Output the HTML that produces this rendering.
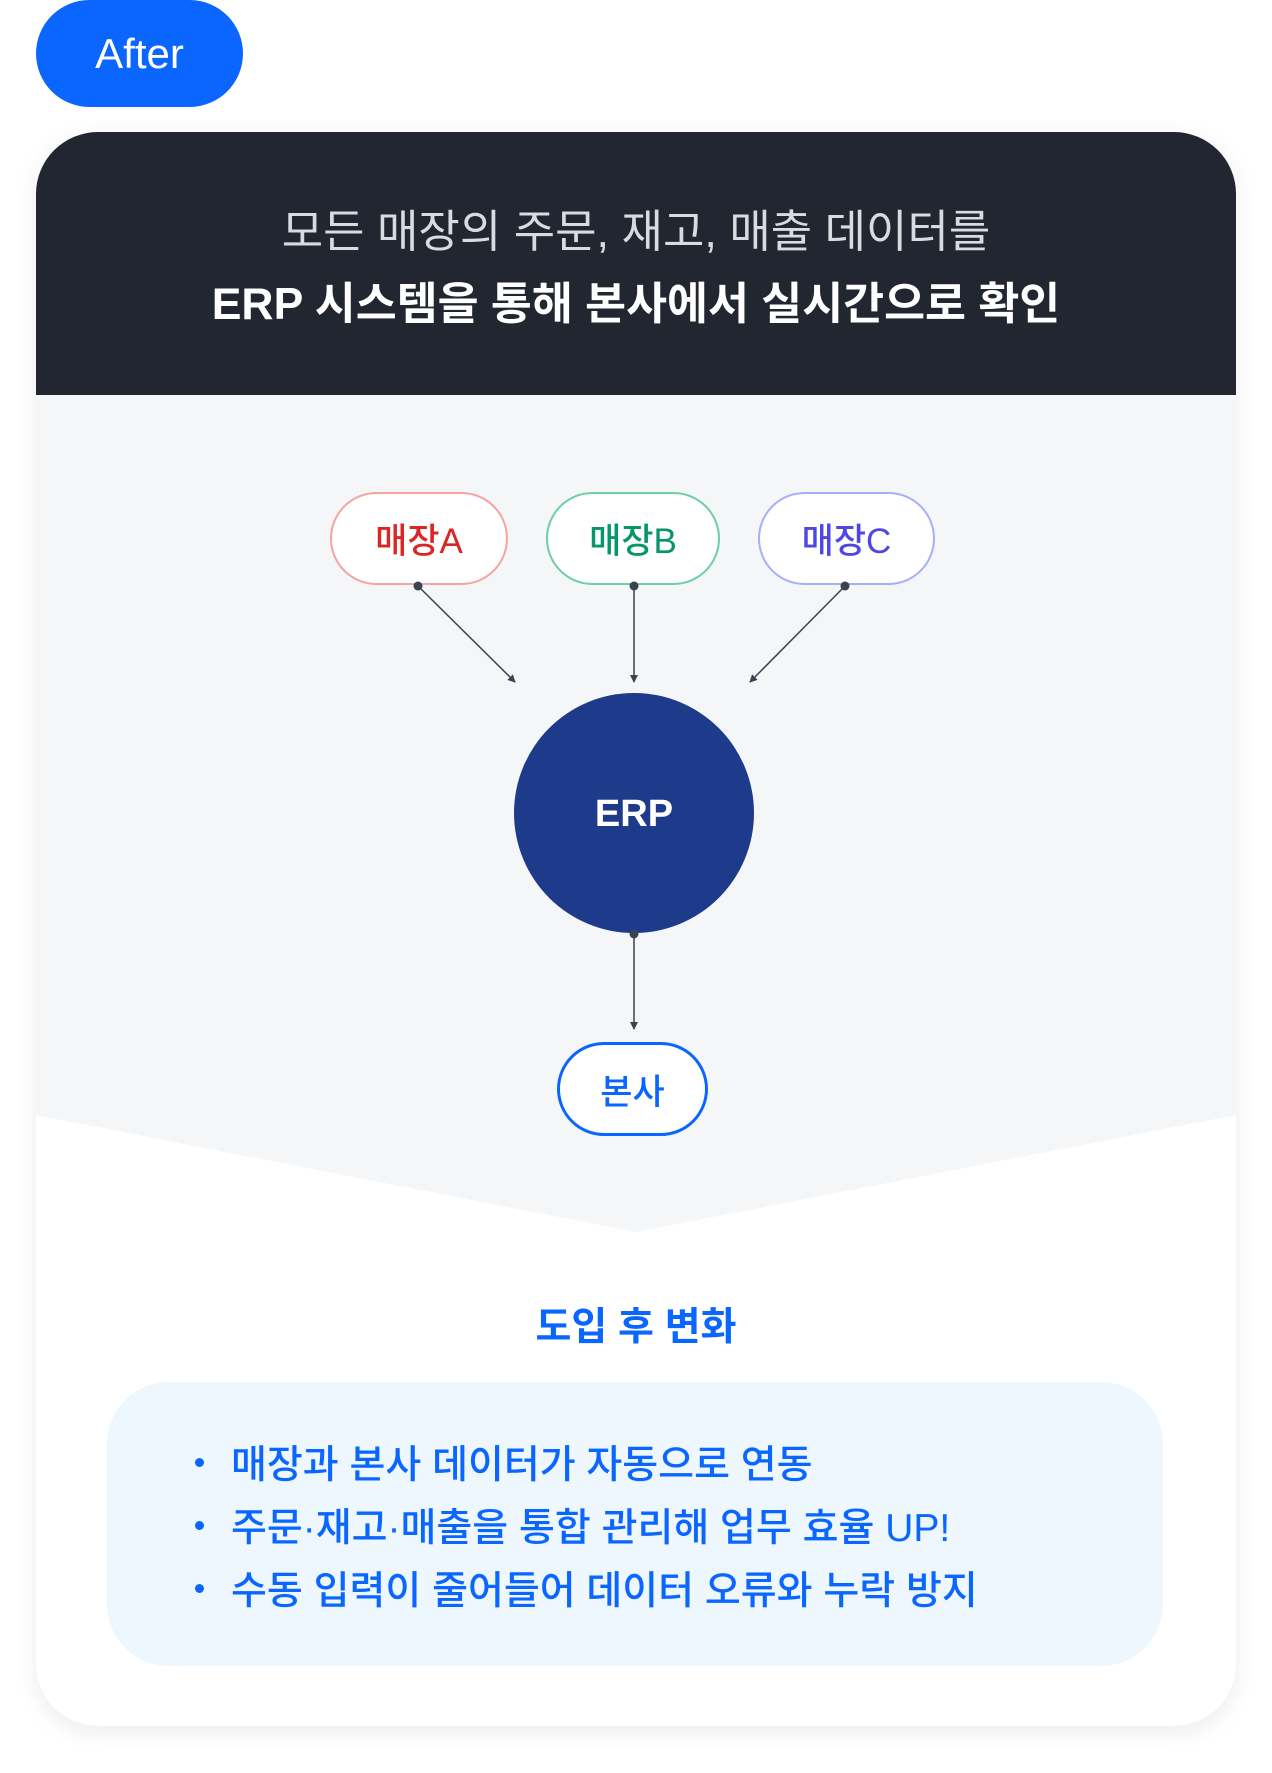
<!DOCTYPE html>
<html><head><meta charset="utf-8"><style>
*{margin:0;padding:0;box-sizing:border-box}
body{width:1272px;height:1773px;background:#fff;font-family:"Liberation Sans","Noto Sans CJK KR",sans-serif;position:relative;overflow:hidden}
.abs{position:absolute}
.pill{position:absolute;border-radius:60px;background:#fff;display:flex;align-items:center;justify-content:center;font-size:35px;font-weight:500}
.bl{position:absolute;left:0;font-size:39px;color:#0a66ff;font-weight:500;white-space:nowrap}
.dot{position:absolute;left:3px;width:9px;height:9px;border-radius:50%;background:#0a66ff}
</style></head><body>
<div class="abs" style="left:36px;top:0;width:207px;height:107px;border-radius:54px;background:#0a66ff;color:#fff;font-size:42px;display:flex;align-items:center;justify-content:center">After</div>
<div class="abs" style="left:36px;top:132px;width:1200px;height:1594px;border-radius:62px;background:#fff;box-shadow:0 6px 24px rgba(0,0,0,0.08);overflow:hidden">
  <div class="abs" style="left:0;top:0;width:1200px;height:263px;background:#222630"></div>
  <div class="abs" style="left:0;top:63px;width:1200px;text-align:center;color:#d8dbe0;font-size:45px">모든 매장의 주문, 재고, 매출 데이터를</div>
  <div class="abs" style="left:0;top:135px;width:1200px;text-align:center;color:#fff;font-size:44.5px;font-weight:bold">ERP 시스템을 통해 본사에서 실시간으로 확인</div>
  <svg class="abs" style="left:0;top:263px" width="1200" height="840"><polygon points="0,0 1200,0 1200,720 600,837 0,720" fill="#f4f6f8"/></svg>
</div>
<svg class="abs" style="left:0;top:0" width="1272" height="1773">
  <defs><marker id="a" markerWidth="8" markerHeight="8" refX="7" refY="4" orient="auto" markerUnits="userSpaceOnUse"><path d="M0,0 L8,4 L0,8z" fill="#3b4250"/></marker></defs>
  <g stroke="#3b4250" stroke-width="1.5" fill="none">
    <line x1="418" y1="586" x2="515" y2="682" marker-end="url(#a)"/>
    <line x1="634" y1="586" x2="634" y2="682" marker-end="url(#a)"/>
    <line x1="845" y1="586" x2="750" y2="682" marker-end="url(#a)"/>
    <line x1="634" y1="934" x2="634" y2="1029" marker-end="url(#a)"/>
  </g>
  <circle cx="634" cy="813" r="120" fill="#1e3a8a"/>
  <text x="634" y="826" text-anchor="middle" fill="#fff" font-size="38" font-weight="bold" font-family="Liberation Sans,sans-serif">ERP</text>
</svg>
<div class="pill" style="left:330px;top:492px;width:178px;height:93px;border:2px solid #f5a3a3;color:#dc2626">매장A</div>
<div class="pill" style="left:546px;top:492px;width:174px;height:93px;border:2px solid #6fcfa4;color:#059669">매장B</div>
<div class="pill" style="left:758px;top:492px;width:177px;height:93px;border:2px solid #a5b0fb;color:#4f46e5">매장C</div>
<svg class="abs" style="left:0;top:0" width="1272" height="1773"><g fill="#3b4250"><circle cx="418" cy="586" r="4.5"/><circle cx="634" cy="586" r="4.5"/><circle cx="845" cy="586" r="4.5"/><circle cx="634" cy="934" r="4.5"/></g></svg>
<div class="pill" style="left:557px;top:1042px;width:151px;height:94px;border:3px solid #0a66ff;color:#0a66ff">본사</div>
<div class="abs" style="left:0;top:1296px;width:1272px;text-align:center;color:#0a66ff;font-size:39px;font-weight:bold">도입 후 변화</div>
<div class="abs" style="left:107px;top:1382px;width:1056px;height:284px;border-radius:62px;background:#eef6fe">
  <div class="abs" style="left:85px;top:52px;width:950px;height:200px">
    <div class="dot" style="top:24px"></div>
    <div class="dot" style="top:87px"></div>
    <div class="dot" style="top:150px"></div>
    <div class="bl" style="left:39px;top:0">매장과 본사 데이터가 자동으로 연동</div>
    <div class="bl" style="left:39px;top:63px">주문·재고·매출을 통합 관리해 업무 효율 UP!</div>
    <div class="bl" style="left:39px;top:126px">수동 입력이 줄어들어 데이터 오류와 누락 방지</div>
  </div>
</div>
</body></html>
